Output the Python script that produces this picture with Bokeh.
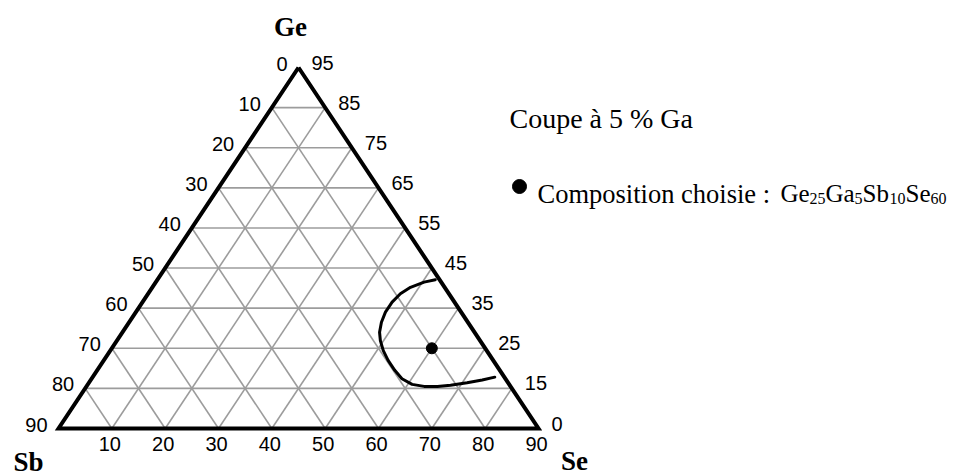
from bokeh.plotting import figure
from bokeh.models import Label, Range1d
from bokeh.core.properties import value
from bokeh.embed import file_html
from bokeh.resources import INLINE

# ---------------- data (grid units on the 5 % Ga section: Ge + Sb + Se = 90) ----------------
side_total = 90
grid_steps = [10, 20, 30, 40, 50, 60, 70, 80]
edge_steps = [0, 10, 20, 30, 40, 50, 60, 70, 80, 90]

left_tick_labels = ["0", "10", "20", "30", "40", "50", "60", "70", "80", "90"]    # Sb, apex -> Sb corner
bottom_tick_labels = ["10", "20", "30", "40", "50", "60", "70", "80", "90"]      # Se, Sb corner -> Se corner
bottom_tick_steps = [10, 20, 30, 40, 50, 60, 70, 80, 90]
right_tick_labels = ["95", "85", "75", "65", "55", "45", "35", "25", "15", "0"]   # Ge, apex -> Se corner

vertex_names = ["Ge", "Sb", "Se"]

# vitreous-domain boundary (grid units)
curve_ge = [37.1, 36.5, 35.2, 33.6, 31.5, 29.0, 26.5, 24.0, 21.9, 19.4, 17.0, 14.5,
            12.4, 11.0, 10.5, 10.5, 10.8, 11.4, 12.1, 12.8]
curve_se = [52.1, 50.3, 48.4, 47.3, 46.8, 46.8, 47.3, 48.2, 49.4, 51.2, 53.3, 55.8,
            58.2, 60.8, 63.3, 65.8, 68.1, 70.9, 73.4, 75.4]

chosen_ge = [20]
chosen_se = [60]

title_text = "Coupe à 5 % Ga"
legend_prefix = "Composition choisie :"
formula_parts = [("Ge", False), ("25", True), ("Ga", False), ("5", True),
                 ("Sb", False), ("10", True), ("Se", False), ("60", True)]


def tx(ge, se):
    return se + ge / 2.0


def ty(ge):
    return ge


# ---------------- layout constants ----------------
W, H = 960, 476
SX = 480.0 / side_total      # px per grid unit horizontally
SY = 361.0 / side_total      # px per grid unit vertically
OX, OY = 58.0, 48.0          # Sb corner position (px from left, px from bottom)

p = figure(width=W, height=H, output_backend="svg", toolbar_location=None,
           x_axis_type=None, y_axis_type=None, min_border=0,
           x_range=Range1d(-OX / SX, (W - OX) / SX),
           y_range=Range1d(-OY / SY, (H - OY) / SY))
p.grid.visible = False
p.outline_line_color = None
p.background_fill_color = "white"
p.border_fill_color = "white"

# ---------------- grid ----------------
xs, ys = [], []
for g in grid_steps:
    # constant Ge
    xs.append([tx(g, 0), tx(g, side_total - g)]); ys.append([ty(g), ty(g)])
    # constant Se
    xs.append([tx(0, g), tx(side_total - g, g)]); ys.append([ty(0), ty(side_total - g)])
    # constant Sb
    xs.append([tx(0, side_total - g), tx(side_total - g, 0)]); ys.append([ty(0), ty(side_total - g)])
p.multi_line(xs, ys, line_color="#9c9c9c", line_width=1.6)

# ---------------- triangle ----------------
tri_ge = [side_total, 0, 0, side_total]
tri_se = [0, 0, side_total, 0]
p.line([tx(g, s) for g, s in zip(tri_ge, tri_se)], [ty(g) for g in tri_ge],
       line_color="black", line_width=4, line_join="miter")

# ---------------- curve + point ----------------
p.line([tx(g, s) for g, s in zip(curve_ge, curve_se)], [ty(g) for g in curve_ge],
       line_color="black", line_width=3, line_join="round", line_cap="round")
p.scatter([tx(g, s) for g, s in zip(chosen_ge, chosen_se)], [ty(g) for g in chosen_ge],
          size=11, marker="circle", fill_color="black", line_color="black")

# ---------------- tick labels ----------------
tick_font = value("Liberation Sans")
lg = [side_total - v for v in edge_steps]
p.text([tx(g, 0) for g in lg], [ty(g) for g in lg], text=left_tick_labels,
       text_font=tick_font, text_font_size="20px", text_align="right",
       text_baseline="middle", x_offset=-11, y_offset=-4, text_color="black")
p.text([tx(0, s) for s in bottom_tick_steps], [ty(0)] * len(bottom_tick_steps),
       text=bottom_tick_labels, text_font=tick_font, text_font_size="20px",
       text_align="center", text_baseline="middle", x_offset=-2, y_offset=15,
       text_color="black")
rg = [side_total - v for v in edge_steps]
p.text([tx(g, side_total - g) for g in rg], [ty(g) for g in rg], text=right_tick_labels,
       text_font=tick_font, text_font_size="20px", text_align="left",
       text_baseline="middle", x_offset=13, y_offset=-5, text_color="black")

# ---------------- vertex names ----------------
vx = [tx(side_total, 0), tx(0, 0), tx(0, side_total)]
vy = [ty(side_total), ty(0), ty(0)]
vdx = [-8, -30, 36]
vdy = [-41, 33, 32]
for name, x, y, dx, dy in zip(vertex_names, vx, vy, vdx, vdy):
    p.text([x], [y], text=[name], text_font=value("Liberation Serif"),
           text_font_style="bold", text_font_size="27px", text_align="center",
           text_baseline="middle", x_offset=dx, y_offset=dy, text_color="black")

# ---------------- legend block (screen units, from left / bottom) ----------------
serif = "Liberation Serif"
p.add_layout(Label(x=509, y=358, x_units="screen", y_units="screen", text=title_text,
                   text_font=serif, text_font_size="28px", text_baseline="alphabetic",
                   text_color="black"))

bullet_cx, bullet_cy = 519, 290
p.scatter([-OX / SX + bullet_cx / SX], [-OY / SY + bullet_cy / SY], size=14,
          marker="circle", fill_color="black", line_color="black")

p.add_layout(Label(x=537, y=283, x_units="screen", y_units="screen", text=legend_prefix,
                   text_font=serif, text_font_size="26.5px", text_baseline="alphabetic",
                   text_color="black"))
part_x = [780, 809, 825, 854, 862, 889, 905, 930]
for (txt, sub), px in zip(formula_parts, part_x):
    p.add_layout(Label(x=px, y=278 if sub else 283, x_units="screen", y_units="screen",
                       text=txt, text_font=serif,
                       text_font_size="16px" if sub else "25px",
                       text_baseline="alphabetic", text_color="black"))

open("out.html", "w").write(file_html(p, INLINE))
